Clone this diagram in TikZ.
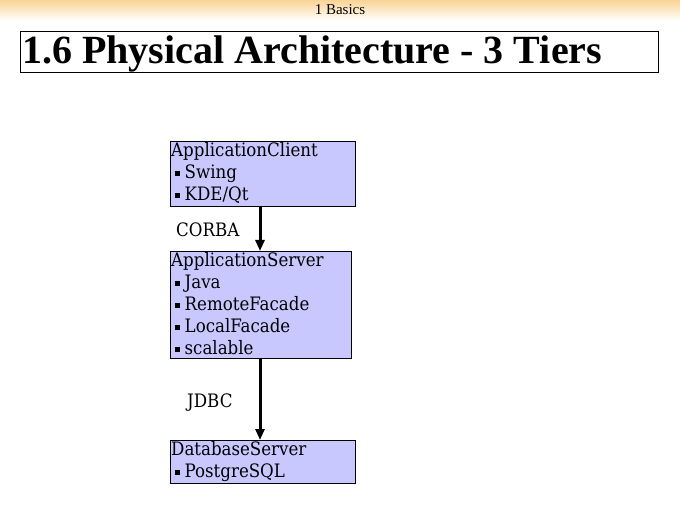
\documentclass[tikz,border=0pt]{standalone}
\usepackage{fontspec}
\setmainfont{Liberation Serif}[BoldFont={Liberation Serif Bold}]
\newfontfamily\bodyfont{DejaVu Serif Condensed}
\usetikzlibrary{arrows.meta}
\definecolor{boxfill}{RGB}{200,200,255}
\definecolor{headtop}{RGB}{250,212,150}
\newcommand{\bul}{\hspace*{4pt}\raisebox{0.25ex}{\rule{5pt}{5pt}}\hspace{4.5pt}}
\tikzset{
  tierbox/.style={draw=black, line width=0.8pt, fill=boxfill, inner sep=0pt, anchor=north west},
  tiertxt/.style={anchor=north west, inner sep=0pt, align=left, font=\bodyfont\fontsize{18.5}{22}\selectfont},
  lbl/.style={font=\bodyfont\fontsize{18.5}{22}\selectfont, inner sep=0pt},
  conn/.style={line width=3pt, -{Triangle[width=9pt,length=11pt]}, shorten >=-1pt}
}
\begin{document}
\begin{tikzpicture}[x=1pt,y=-1pt]
\useasboundingbox (0,0) rectangle (680,510);
\fill[white] (0,0) rectangle (680,510);
\shade[top color=headtop, bottom color=white] (0,0) rectangle (680,21);
\node[font=\fontsize{15}{18}\selectfont, inner sep=0pt] (head) at (340,10) {1 Basics};
\node[draw=black, line width=0.8pt, minimum width=638pt, minimum height=41pt, inner sep=0pt, anchor=north west] (titlebox) at (20,31) {};
\node[anchor=base west, inner sep=0pt, font=\fontsize{40}{44}\selectfont\bfseries] (title) at (22,64) {1.6 Physical Architecture - 3 Tiers};

\node[tierbox, minimum width=185pt, minimum height=65pt] (client) at (170,141) {};
\node[tiertxt] (clienttxt) at (171,142) {ApplicationClient\\\bul Swing\\\bul KDE/Qt};

\node[tierbox, minimum width=181pt, minimum height=107pt] (server) at (170,251) {};
\node[tiertxt] (servertxt) at (171,252) {ApplicationServer\\\bul Java\\\bul RemoteFacade\\\bul LocalFacade\\\bul scalable};

\node[tierbox, minimum width=185pt, minimum height=43pt] (db) at (170,440) {};
\node[tiertxt] (dbtxt) at (171,441) {DatabaseServer\\\bul PostgreSQL};

\coordinate (a1s) at (260,206);
\coordinate (a1e) at (260,250);
\coordinate (a2s) at (260,358);
\coordinate (a2e) at (260,439);
\draw[conn] (a1s) -- (a1e);
\draw[conn] (a2s) -- (a2e);
\node[lbl, anchor=base west] (corba) at (176,237) {CORBA};
\node[lbl, anchor=base west] (jdbc) at (187,407) {JDBC};
\end{tikzpicture}
\end{document}
